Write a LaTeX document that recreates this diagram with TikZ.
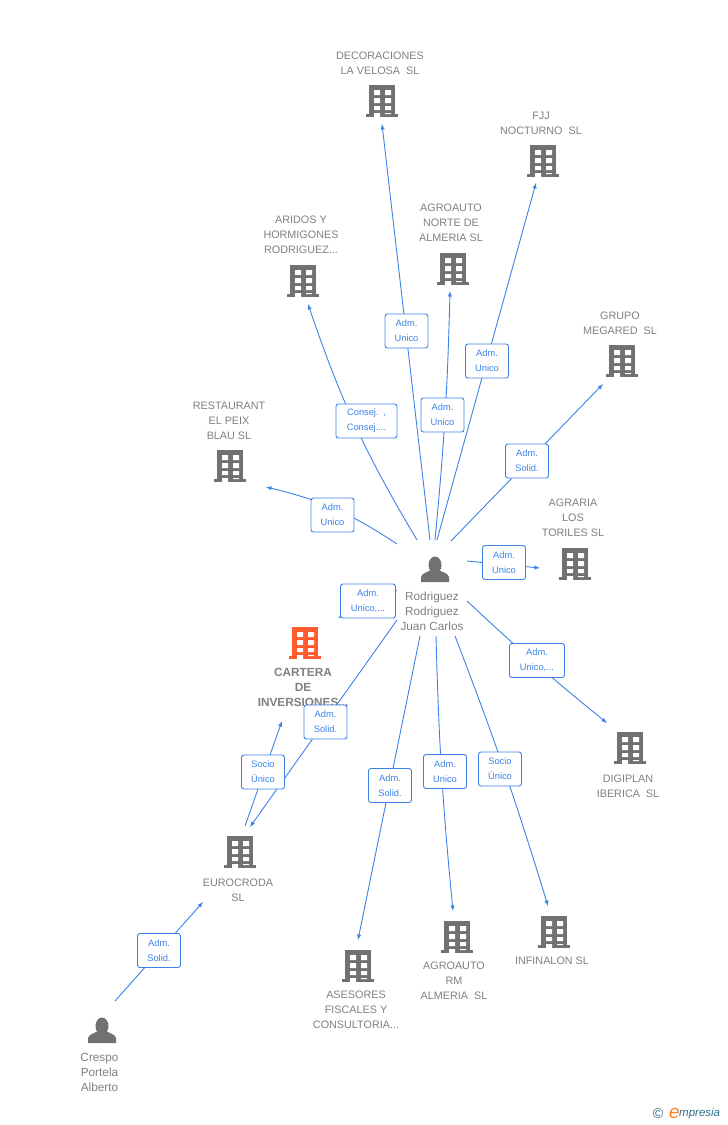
\documentclass[tikz,border=0pt]{standalone}
\usepackage{fontspec}
\setmainfont{Liberation Sans}
\usepackage{tikz}
\definecolor{linkblue}{HTML}{3C82E6}
\definecolor{icongray}{HTML}{717171}
\definecolor{labelgray}{HTML}{808080}
\definecolor{mainorange}{HTML}{FF5A30}
\definecolor{logoteal}{HTML}{2F6F8C}
\definecolor{logoorange}{HTML}{F58220}
\tikzset{
  link/.style={draw=linkblue, line width=0.9pt},
  arrowlink/.style={link, -latex},
  rolebox/.style={draw=linkblue, line width=0.9pt, fill=white, rounded corners=2.5pt, align=left,
    text=linkblue, font=\fontsize{9.3}{15}\selectfont, minimum height=34pt, inner sep=0pt, text width=33pt, minimum width=43pt, align=center},
  caption/.style={text=labelgray, align=center, font=\fontsize{10.8}{15}\selectfont, inner sep=0pt},
  building/.pic={
    \fill[pic actions] (-13,-16) rectangle (13,16);
    \fill[pic actions] (-16,13) rectangle (16,16);
    \fill[white] (-8,-11) rectangle (-2,-6) (3,-11) rectangle (9,-6);
    \fill[white] (-8,-3) rectangle (-2,2) (3,-3) rectangle (9,2);
    \fill[white] (-8,5) rectangle (-2,9) (3,5) rectangle (9,9);
    \fill[white] (-8,12) rectangle (-2,16) (3,12) rectangle (9,13);
  },
  person/.pic={
    \fill[pic actions] (0,-3) ellipse (6.5 and 8.5);
    \fill[pic actions] (-14,14) -- (-14,9) .. controls (-13,5) and (-7,4) .. (-4,2) -- (4,2)
      .. controls (7,4) and (13,5) .. (14,9) -- (14,14) -- cycle;
  },
}
\begin{document}
\begin{tikzpicture}[x=1pt,y=-1pt]
  \useasboundingbox (0,0) rectangle (728,1125);
  % Companies
  \foreach \nm/\x/\y in {decora/382/101, fjj/543/161, aridos/303/281, norte/453/269, megared/622/361,
      peix/230/466, agraria/575/564, digiplan/630/748, eurocroda/240/852, infinalon/554/932,
      rmalmeria/457/937, asesores/358/966}
    \node (\nm) at (\x,\y) {} pic[icongray] at (\x,\y) {building};
  \node (cartera) at (305,643) {} pic[mainorange] at (305,643) {building};
  % People
  \node (rodriguez) at (435,568) {} pic[icongray] at (435,568) {person};
  \node (crespo) at (102,1029) {} pic[icongray] at (102,1029) {person};
  % Captions
  \node[caption] (decoraT) at (380,63) {DECORACIONES\\LA VELOSA\ \ SL};
  \node[caption] (fjjT) at (541,123.500) {FJJ\\NOCTURNO\ \ SL};
  \node[caption] (aridosT) at (301,235) {ARIDOS Y\\HORMIGONES\\RODRIGUEZ...};
  \node[caption] (norteT) at (451,223) {AGROAUTO\\NORTE DE\\ALMERIA SL};
  \node[caption] (megaredT) at (620,323) {GRUPO\\MEGARED\ \ SL};
  \node[caption] (peixT) at (229,421) {RESTAURANT\\EL PEIX\\BLAU SL};
  \node[caption] (agrariaT) at (573,518) {AGRARIA\\LOS\\TORILES SL};
  \node[caption] (digiplanT) at (628,786) {DIGIPLAN\\IBERICA\ \ SL};
  \node[caption] (eurocrodaT) at (238,890) {EUROCRODA\\SL};
  \node[caption] (infinalonT) at (552,961) {INFINALON SL};
  \node[caption] (rmalmeriaT) at (454,981) {AGROAUTO\\RM\\ALMERIA\ \ SL};
  \node[caption] (asesoresT) at (356,1010) {ASESORES\\FISCALES Y\\CONSULTORIA...};
  \node[caption, font=\bfseries\fontsize{11.8}{15}\selectfont] (carteraT) at (303,687) {CARTERA\\DE\\INVERSIONES...};
  \node[caption, font=\fontsize{11.8}{15}\selectfont] (rodriguezT) at (432,611) {Rodriguez\\Rodriguez\\Juan Carlos};
  \node[caption, font=\fontsize{11.8}{15}\selectfont] (crespoT) at (99.500,1072) {Crespo\\Portela\\Alberto};
  % Connector ends
  \coordinate (s1) at (430,540); \coordinate (e1) at (382,124);
  \coordinate (s2) at (417,540); \coordinate (e2) at (308,304);
  \coordinate (s3) at (435,540); \coordinate (e3) at (450,291);
  \coordinate (s4) at (437,540); \coordinate (e4) at (536,183);
  \coordinate (s5) at (451,541); \coordinate (e5) at (603,384);
  \coordinate (s6) at (397,544); \coordinate (e6) at (266,487);
  \coordinate (s7) at (467,561); \coordinate (e7) at (540,568);
  \coordinate (s8) at (467,601); \coordinate (e8) at (607,723);
  \coordinate (s9) at (455,636); \coordinate (e9) at (548,906);
  \coordinate (s10) at (436,636); \coordinate (e10) at (453,911);
  \coordinate (s11) at (420,636); \coordinate (e11) at (358,940);
  \coordinate (s12) at (397,620); \coordinate (e12) at (250,827);
  \coordinate (s13) at (397,590); \coordinate (e13) at (338,618);
  \coordinate (s14) at (245,826); \coordinate (e14) at (282,721);
  \coordinate (s15) at (115,1001); \coordinate (e15) at (203,902);
  % Links, each one through its role box
  \draw[arrowlink] (s1) -- (e1);
  \draw[arrowlink] (s2) to[bend left=6] (e2);
  \draw[arrowlink] (s3) to[bend right=2] (e3);
  \draw[arrowlink] (s4) -- (e4);
  \draw[arrowlink] (s5) -- (e5);
  \draw[arrowlink] (s6) to[bend right=10] (e6);
  \draw[arrowlink] (s7) -- (e7);
  \draw[arrowlink] (s8) to[bend right=2] (e8);
  \draw[arrowlink] (s9) to[bend left=2] (e9);
  \draw[arrowlink] (s10) to[bend right=2] (e10);
  \draw[arrowlink] (s11) -- (e11);
  \draw[arrowlink] (s12) -- (e12);
  \draw[arrowlink] (s13) -- (e13);
  \draw[arrowlink] (s14) -- (e14);
  \draw[arrowlink] (s15) -- (e15);
  % Role boxes
  \node[rolebox] (r1) at (406.500,331) {Adm.\\Unico};
  \node[rolebox, minimum width=61pt, text width=55pt] (r2) at (366.500,421) {Consej. ,\\Consej....};
  \node[rolebox] (r3) at (442.500,415) {Adm.\\Unico};
  \node[rolebox] (r4) at (487,361) {Adm.\\Unico};
  \node[rolebox] (r5) at (527,461) {Adm.\\Solid.};
  \node[rolebox] (r6) at (332.500,515) {Adm.\\Unico};
  \node[rolebox] (r7) at (504,562.500) {Adm.\\Unico};
  \node[rolebox, minimum width=55pt, text width=50pt] (r8) at (537,660.500) {Adm.\\Unico,...};
  \node[rolebox] (r9) at (500,769) {Socio\\Único};
  \node[rolebox] (r10) at (445,771.500) {Adm.\\Unico};
  \node[rolebox] (r11) at (390,785.500) {Adm.\\Solid.};
  \node[rolebox] (r12) at (325.500,722) {Adm.\\Solid.};
  \node[rolebox, minimum width=55pt, text width=50pt] (r13) at (368,601) {Adm.\\Unico,...};
  \node[rolebox] (r14) at (263,772) {Socio\\Único};
  \node[rolebox] (r15) at (159,950.500) {Adm.\\Solid.};
  % Logo
  \node[text=logoteal, font=\fontsize{14}{14}\selectfont, inner sep=0pt] (logomark) at (658,1114) {©};
  \node[text=logoteal, font=\fontsize{11.500}{14}\selectfont\itshape, inner sep=0pt, anchor=west] (logoname) at (679,1114) {mpresia};
  \node[text=logoorange, font=\fontsize{19}{19}\selectfont\itshape, inner sep=0pt, anchor=east] (logoe) at (680,1113) {e};
\end{tikzpicture}
\end{document}
